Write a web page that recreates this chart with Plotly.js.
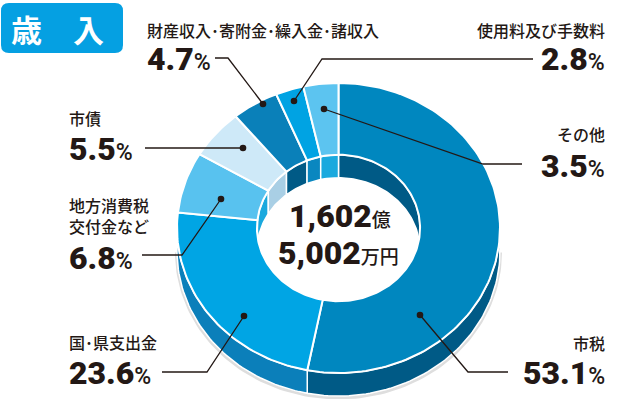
<!DOCTYPE html>
<html><head><meta charset="utf-8">
<script src="https://cdn.plot.ly/plotly-3.0.1.min.js"></script>
<style>html,body{margin:0;padding:0;background:#fff}</style>
</head><body><div id="chart" style="width:640px;height:399px"></div>
<script>
// ---- data ----
const chartTitle = '歳　入';
const categories = ['市税', '国･県支出金', '地方消費税<br>交付金など', '市債', '財産収入･寄附金･繰入金･諸収入', '使用料及び手数料', 'その他'];
const values = [53.1, 23.6, 6.8, 5.5, 4.7, 2.8, 3.5];
const totalOku = '1,602';
const totalMan = '5,002';

// ---- styles ----
const topColors  = ['#0087bf', '#00a5e4', '#58c2ef', '#cee9f8', '#0a80b9', '#00a3e3', '#5cc4f0'];
const sideColors = ['#005a86', '#0b7fba', '#1aa9de', '#a9cfe5', '#005a86', '#0a87c0', '#1aa9de'];
const wallColors = ['#005a86', '#1aa9de', '#1aa9de', '#a9cfe5', '#005a86', '#0a87c0', '#1aa9de'];
const INK = '#231815';

// label layout (pixel positions): dot, leader path, name/pct anchors
const labelLayout = [
  {dot:[420,315], path:[[420,315],[468,372],[508,372]], name:[607,343,'right'], pct:[607,373,'right']},
  {dot:[244,316], path:[[244,316],[207,372],[162,372]], name:[67,342,'left'], pct:[67,373,'left']},
  {dot:[221,199], path:[[221,199],[182,255],[142,255]], name:[67,215.5,'left'], pct:[67,258,'left']},
  {dot:[243,148], path:[[243,148],[145,148]], name:[67,118,'left'], pct:[67,149,'left']},
  {dot:[263,104], path:[[263,104],[228,58],[215,58]], name:[145,30,'left'], pct:[145,59,'left']},
  {dot:[294,101], path:[[294,101],[322,59],[533,59]], name:[607,30,'right'], pct:[607,59,'right']},
  {dot:[324,109], path:[[324,109],[483,164],[522,164]], name:[607,134,'right'], pct:[607,166,'right']}
];

// geometry of the tilted donut (pixel space)
const CX = 338.5, CY = 228, RX = 161.5, RY = 145, HOLE = 0.505, DEPTH = 23;

function pt(t, r, dy) {
  const a = t * Math.PI / 180;
  return [CX + RX * r * Math.sin(a), CY - RY * r * Math.cos(a) + dy];
}
function arc(t0, t1, r, dy) {
  const n = Math.max(2, Math.ceil(Math.abs(t1 - t0) / 1.5) + 1);
  const out = [];
  for (let k = 0; k < n; k++) out.push(pt(t0 + (t1 - t0) * k / (n - 1), r, dy));
  return out;
}
function poly(points, fill, lineW) {
  const xs = points.map(p => p[0]), ys = points.map(p => p[1]);
  xs.push(xs[0]); ys.push(ys[0]);
  return {type:'scatter', mode:'lines', x:xs, y:ys, fill:'toself', fillcolor:fill,
          line:{color:'#ffffff', width:lineW}, hoverinfo:'skip', showlegend:false};
}

const total = values.reduce((a, b) => a + b, 0);
const bounds = [];
let acc = 0;
values.forEach(v => { const t0 = acc / total * 360; acc += v; bounds.push([t0, acc / total * 360]); });

const traces = [];
// soft shadow under the front edge
{
  const s = arc(90, 270, 1.0, DEPTH + 1.5);
  traces.push({type:'scatter', mode:'lines', x:s.map(p=>p[0]), y:s.map(p=>p[1]),
    line:{color:'#dedede', width:4}, hoverinfo:'skip', showlegend:false});
}
// outer side walls
bounds.forEach(([t0, t1], i) => {
  traces.push(poly(arc(t0, t1, 1, 0).concat(arc(t1, t0, 1, DEPTH)), sideColors[i], 1.5));
});
// inner walls (back half visible through the hole)
bounds.forEach(([t0, t1], i) => {
  [[0, 90], [270, 360]].forEach(([a, b]) => {
    const s = Math.max(t0, a), e = Math.min(t1, b);
    if (e > s) traces.push(poly(arc(s, e, HOLE, 0).concat(arc(e, s, HOLE, DEPTH)), wallColors[i], 1.5));
  });
});
// top faces
bounds.forEach(([t0, t1], i) => {
  traces.push(poly(arc(t0, t1, 1, 0).concat(arc(t1, t0, HOLE, 0)), topColors[i], 2));
});

const shapes = [];
const annotations = [];
const CJK = '"Noto Sans CJK JP", sans-serif';
const NUM = 'Roboto, "Noto Sans CJK JP", sans-serif';

// title box
shapes.push({type:'path', xref:'x', yref:'y',
  path:'M1,11 Q1,3 9,3 L115,3 Q123,3 123,11 L123,45 Q123,53 115,53 L9,53 Q1,53 1,45 Z',
  fillcolor:'#05a0e2', line:{width:0}});
annotations.push({x:57, y:28, xref:'x', yref:'y', text:chartTitle, showarrow:false,
  xanchor:'center', yanchor:'middle', font:{family:CJK, size:31, color:'#ffffff', weight:700}});

categories.forEach((c, i) => {
  const L = labelLayout[i];
  shapes.push({type:'path', xref:'x', yref:'y',
    path:'M' + L.path.map(p => p[0] + ',' + p[1]).join(' L'),
    line:{color:INK, width:1.3}});
  shapes.push({type:'circle', xref:'x', yref:'y',
    x0:L.dot[0]-3.3, x1:L.dot[0]+3.3, y0:L.dot[1]-3.3, y1:L.dot[1]+3.3,
    fillcolor:INK, line:{width:0}});
  annotations.push({x:L.name[0], y:L.name[1], xref:'x', yref:'y', text:c, showarrow:false,
    xanchor:L.name[2], yanchor:'middle', align:L.name[2],
    font:{family:CJK, size:16, color:INK, weight:500}});
  annotations.push({x:L.pct[0], y:L.pct[1], xref:'x', yref:'y',
    text: values[i].toFixed(1) + '<span style="font-size:23px;font-weight:500">%</span>',
    showarrow:false, xanchor:L.pct[2], yanchor:'middle', align:L.pct[2],
    font:{family:NUM, size:32, color:INK, weight:900}});
});

// center total
annotations.push({x:340, y:216, xref:'x', yref:'y', showarrow:false, xanchor:'center', yanchor:'middle',
  text: totalOku + '<span style="font-size:19px;font-family:\'Noto Sans CJK JP\';font-weight:500">億</span>',
  font:{family:NUM, size:32, color:INK, weight:900}});
annotations.push({x:338, y:253, xref:'x', yref:'y', showarrow:false, xanchor:'center', yanchor:'middle',
  text: totalMan + '<span style="font-size:19px;font-family:\'Noto Sans CJK JP\';font-weight:500">万円</span>',
  font:{family:NUM, size:32, color:INK, weight:900}});

const layout = {
  width:640, height:399, margin:{l:0, r:0, t:0, b:0},
  paper_bgcolor:'#ffffff', plot_bgcolor:'#ffffff', showlegend:false,
  xaxis:{range:[0,640], visible:false, fixedrange:true},
  yaxis:{range:[399,0], visible:false, fixedrange:true},
  shapes:shapes, annotations:annotations
};
Plotly.newPlot('chart', traces, layout, {staticPlot:true, displayModeBar:false});
</script>
</body></html>
